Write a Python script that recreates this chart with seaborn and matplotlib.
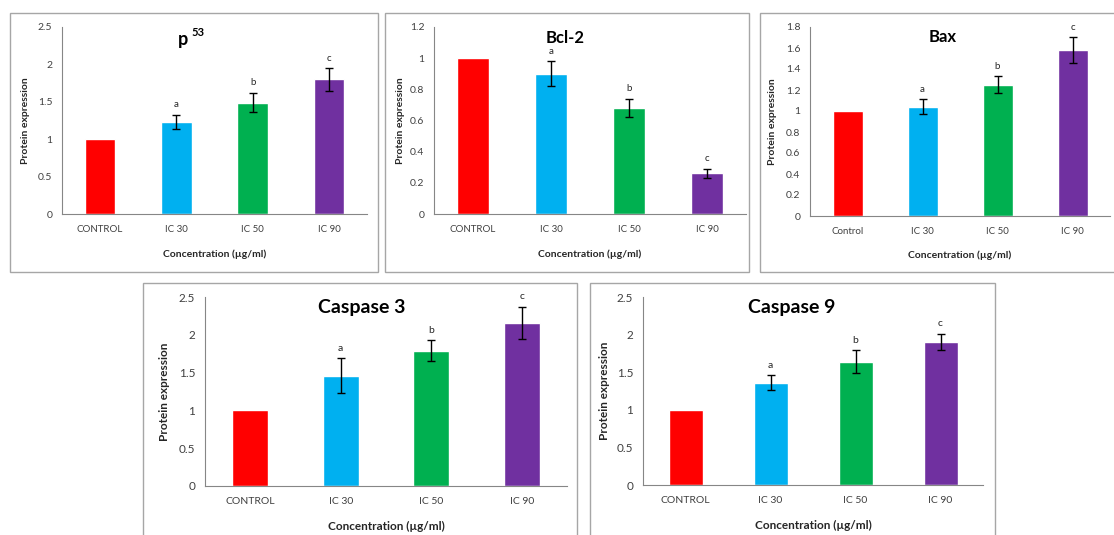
import matplotlib
matplotlib.use("Agg")
import matplotlib.pyplot as plt
import seaborn as sns
import numpy as np
from matplotlib.patches import Rectangle
from matplotlib.ticker import FuncFormatter, FixedLocator

sns.set_style("white")
plt.rcParams['font.family'] = ['Lato', 'DejaVu Sans']

colors = ["#FF0000", "#00B0F0", "#00B050", "#7030A0"]
cats_upper = ["CONTROL", "IC 30", "IC 50", "IC 90"]
cats_bax = ["Control", "IC 30", "IC 50", "IC 90"]
letters = ["", "a", "b", "c"]

p53_vals = [1.0, 1.23, 1.49, 1.80]
p53_err = [0.0, 0.10, 0.13, 0.15]
bcl2_vals = [1.0, 0.90, 0.68, 0.26]
bcl2_err = [0.0, 0.08, 0.06, 0.03]
bax_vals = [1.0, 1.04, 1.25, 1.58]
bax_err = [0.0, 0.07, 0.08, 0.12]
casp3_vals = [1.0, 1.46, 1.79, 2.16]
casp3_err = [0.0, 0.23, 0.14, 0.21]
casp9_vals = [1.0, 1.36, 1.64, 1.90]
casp9_err = [0.0, 0.10, 0.15, 0.11]

W, H = 1114, 535
fig = plt.figure(figsize=(W / 100, H / 100), dpi=100)

def fx(px):
    return px / W

def fy(py):
    return 1 - py / H

def box(x0, y0, x1, y1):
    fig.patches.append(Rectangle((fx(x0), fy(y1)), fx(x1) - fx(x0), fy(y0) - fy(y1),
                                 transform=fig.transFigure, fill=False,
                                 edgecolor="#a6a6a6", linewidth=1.0))

def panel(l, t, r, b, cats, vals, errs, ymax, ystep, title, title_xy, title_size,
          sup=None, xlabel_y=None, ylabel_x=None, fs=7.5, xfs=7.0):
    ax = fig.add_axes([fx(l), fy(b), fx(r) - fx(l), fy(t) - fy(b)])
    sns.barplot(x=cats, y=vals, hue=cats, palette=colors, legend=False,
                width=0.4, ax=ax, saturation=1.0, order=cats, hue_order=cats)
    xs = np.arange(len(cats))
    errs_arr = np.array(errs)
    mask = errs_arr > 0
    ax.errorbar(xs[mask], np.array(vals)[mask], yerr=errs_arr[mask], fmt="none",
                ecolor="black", elinewidth=1.0, capsize=2.6, capthick=1.0)
    for x, v, e, lt in zip(xs, vals, errs, letters):
        if lt:
            ax.annotate(lt, (x, v + e), xytext=(0, 4), textcoords="offset points",
                        ha="center", va="bottom", fontsize=xfs, color="#262626")
    ax.set_xlim(-0.5, len(cats) - 0.5)
    ax.set_ylim(0, ymax)
    ax.yaxis.set_major_locator(FixedLocator(np.round(np.arange(0, ymax + ystep / 2, ystep), 3)))
    ax.yaxis.set_major_formatter(FuncFormatter(lambda v, p: "%g" % v))
    ax.set_xticks(xs)
    ax.set_xticklabels(cats)
    ax.set_xticks(np.arange(-0.5, len(cats), 1.0), minor=True)
    ax.tick_params(axis="x", which="major", length=0, labelsize=xfs, colors="#404040", pad=8)
    ax.tick_params(axis="x", which="minor", length=4, width=0.8, color="#868686", direction="out")
    ax.tick_params(axis="y", which="major", length=4, width=0.8, color="#868686",
                   labelsize=fs, labelcolor="#404040", direction="out", pad=3)
    for s in ["top", "right"]:
        ax.spines[s].set_visible(False)
    for s in ["left", "bottom"]:
        ax.spines[s].set_color("#868686")
        ax.spines[s].set_linewidth(0.8)
    ax.set_xlabel("Concentration (µg/ml)", fontsize=fs, fontweight="bold", color="#262626")
    ax.set_ylabel("Protein expression", fontsize=fs, fontweight="bold", color="#262626")
    if xlabel_y is not None:
        ax.xaxis.set_label_coords(0.5, (fy(xlabel_y) - fy(b)) / (fy(t) - fy(b)))
    if ylabel_x is not None:
        ax.yaxis.set_label_coords((fx(ylabel_x) - fx(l)) / (fx(r) - fx(l)), 0.5)
    tx, ty = title_xy
    fig.text(fx(tx), fy(ty), title, fontsize=title_size, fontweight="bold", ha="center",
             va="center", color="black")
    if sup:
        fig.text(fx(tx + 8), fy(ty - 7), sup, fontsize=8, fontweight="bold",
                 ha="left", va="center", color="black")
    return ax

box(10, 13, 378, 272)
box(385, 13, 749, 272)
box(760, 13, 1120, 272)
box(143, 283, 577, 540)
box(590, 283, 995, 540)

panel(62, 27, 367, 214, cats_upper, p53_vals, p53_err, 2.5, 0.5, "p", (183, 40), 13,
      sup="53", xlabel_y=249, ylabel_x=30)
panel(434, 27, 746, 214, cats_upper, bcl2_vals, bcl2_err, 1.2, 0.2, "Bcl-2", (565, 38), 12,
      xlabel_y=249, ylabel_x=405)
panel(810, 27, 1110, 216, cats_bax, bax_vals, bax_err, 1.8, 0.2, "Bax", (943, 37), 12,
      xlabel_y=250, ylabel_x=777)
panel(205, 297, 567, 486, cats_upper, casp3_vals, casp3_err, 2.5, 0.5, "Caspase 3", (362, 308), 14,
      xlabel_y=521, ylabel_x=170, fs=8.5, xfs=7.5)
panel(643, 297, 983, 485, cats_upper, casp9_vals, casp9_err, 2.5, 0.5, "Caspase 9", (792, 308), 14,
      xlabel_y=520, ylabel_x=610, fs=8.5, xfs=7.5)

fig.savefig("out.png", dpi=100)
